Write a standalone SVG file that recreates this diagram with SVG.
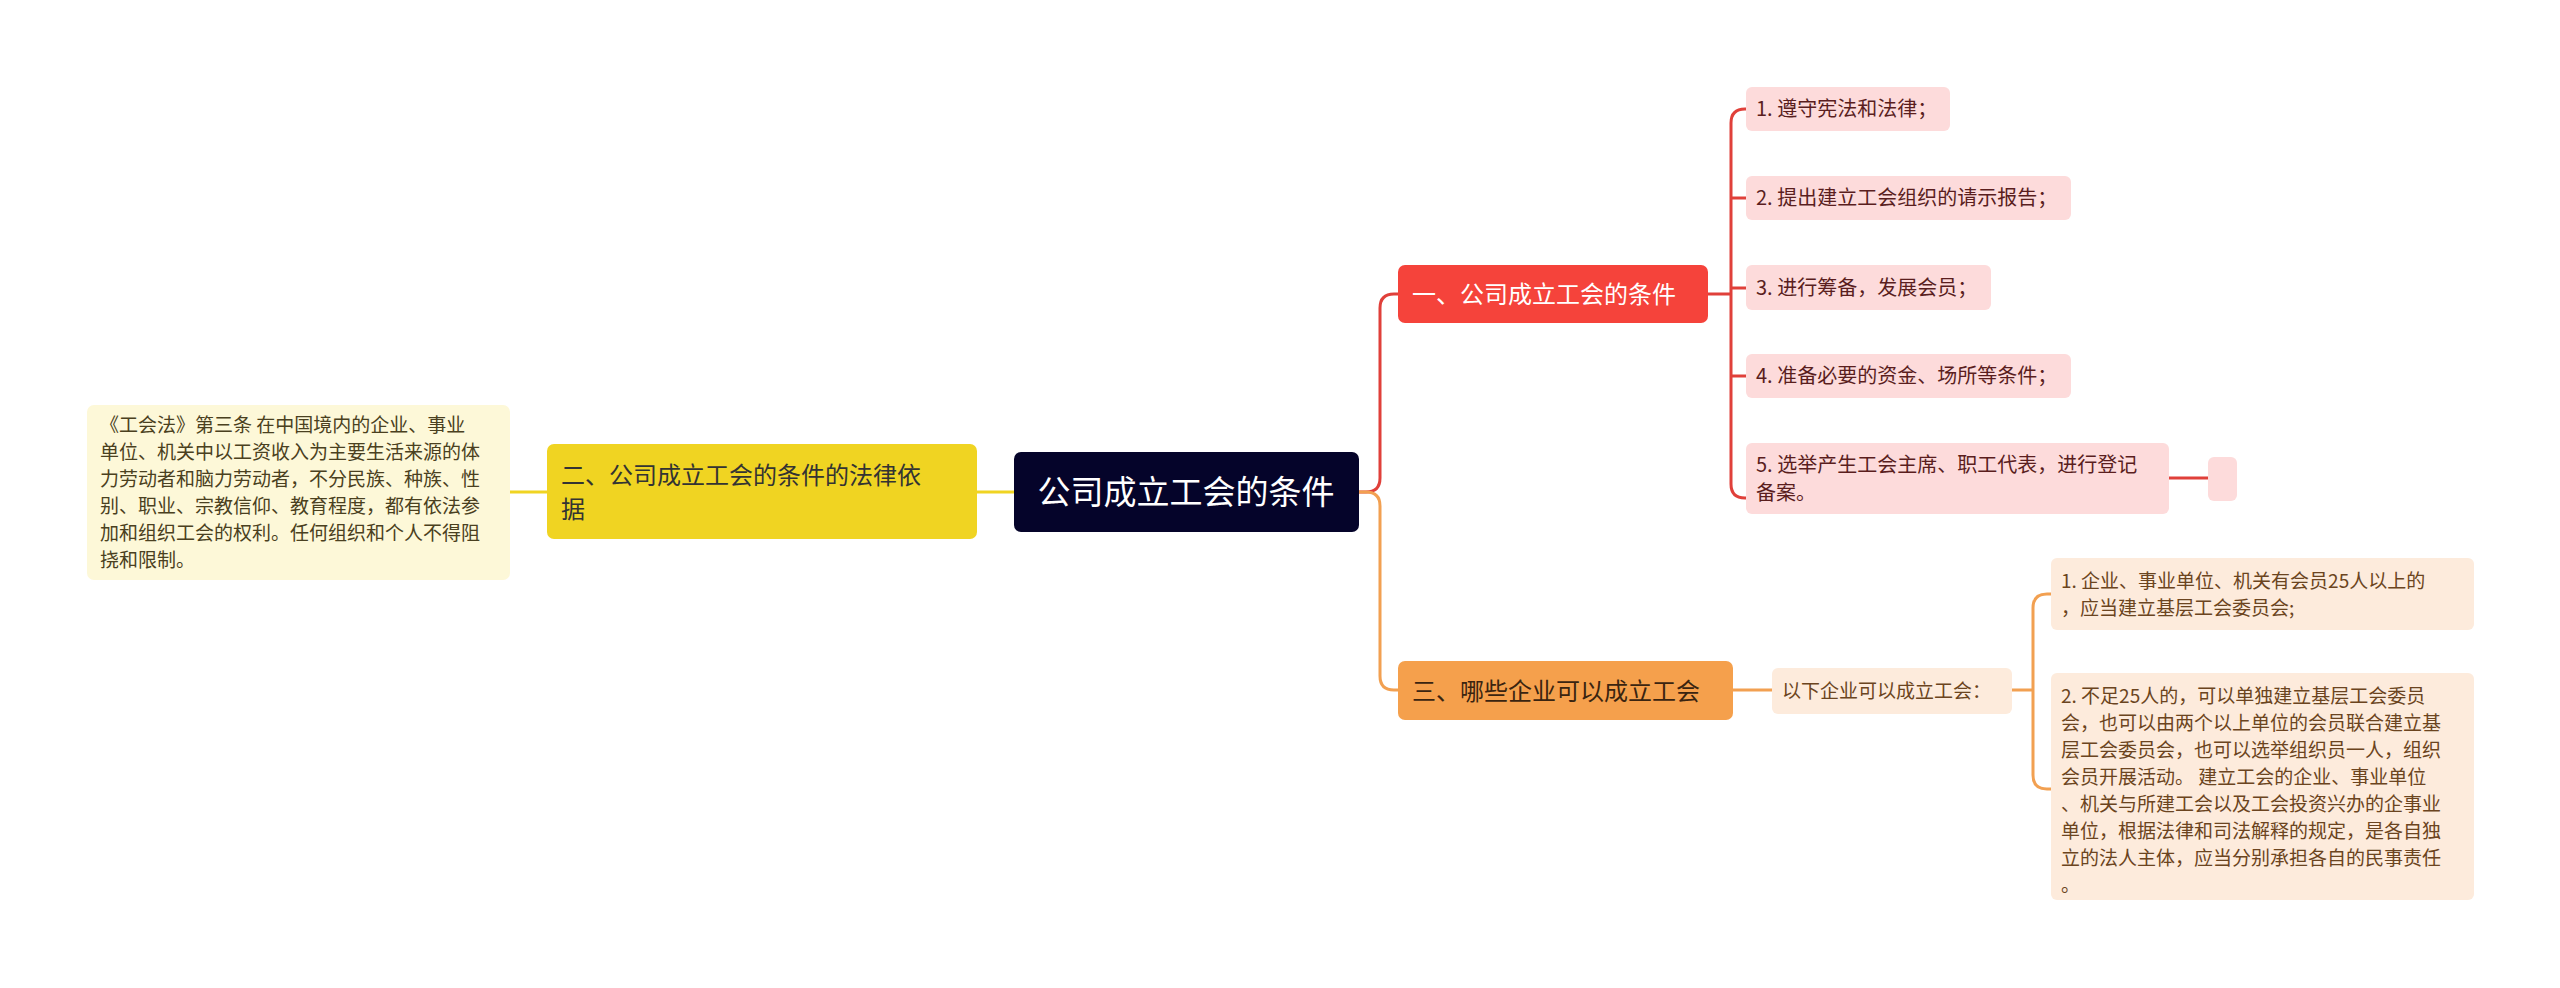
<svg xmlns="http://www.w3.org/2000/svg" width="2560" height="988" viewBox="0 0 2560 988">
<style>
text{font-family:"Noto Sans CJK SC","Noto Sans",sans-serif}
.r{fill:#fddbdb}.rt{fill:#5a1e1e;font-size:20px}
.o{fill:#fdebdc}.ot{fill:#6b4420;font-size:19px}
.lr{stroke:#e0403a;stroke-width:3;fill:none}
.lo{stroke:#f2a051;stroke-width:3;fill:none}
.ly{stroke:#f0d422;stroke-width:3;fill:none}
</style>
<rect width="2560" height="988" fill="#fff"/>
<g id="connectors">
<path class="ly" d="M1014 492H977M547 492H510"/>
<path class="lr" d="M1359 492H1366Q1380 492 1380 478V308Q1380 294 1394 294H1398"/>
<path class="lo" d="M1359 492H1366Q1380 492 1380 506V676Q1380 690 1394 690H1398"/>
<path class="lr" d="M1708 294H1731M1746 109H1745Q1731 109 1731 123V484Q1731 498 1745 498H1746M1731 198H1746M1731 288H1746M1731 376H1746M2169 478H2208"/>
<path class="lo" d="M1733 690H1772M2012 690H2033M2051 594H2047Q2033 594 2033 608V775Q2033 789 2047 789H2051"/>
</g>
<g id="root"><rect x="1014" y="452" width="345" height="80" rx="7" fill="#05042a"/><text x="1186" y="504" font-size="33" fill="#fff" text-anchor="middle">公司成立工会的条件</text></g>
<g id="n2"><rect x="547" y="444" width="430" height="95" rx="7" fill="#f0d422"/><text x="561" y="484" font-size="24" fill="#333">二、公司成立工会的条件的法律依</text><text x="561" y="518" font-size="24" fill="#333">据</text></g>
<g id="n2d"><rect x="87" y="405" width="423" height="175" rx="7" fill="#fdf8d8"/><text font-size="19" fill="#4a4020"><tspan x="100" y="432">《工会法》第三条 在中国境内的企业、事业</tspan><tspan x="100" y="459">单位、机关中以工资收入为主要生活来源的体</tspan><tspan x="100" y="486">力劳动者和脑力劳动者，不分民族、种族、性</tspan><tspan x="100" y="513">别、职业、宗教信仰、教育程度，都有依法参</tspan><tspan x="100" y="540">加和组织工会的权利。任何组织和个人不得阻</tspan><tspan x="100" y="567">挠和限制。</tspan></text></g>
<g id="n1"><rect x="1398" y="265" width="310" height="58" rx="7" fill="#f5433b"/><text x="1412" y="303" font-size="24" fill="#fff">一、公司成立工会的条件</text></g>
<g id="n1a"><rect class="r" x="1746" y="87" width="204" height="44" rx="6"/><text class="rt" x="1756" y="116">1. 遵守宪法和法律；</text></g>
<g id="n1b"><rect class="r" x="1746" y="176" width="325" height="44" rx="6"/><text class="rt" x="1756" y="205">2. 提出建立工会组织的请示报告；</text></g>
<g id="n1c"><rect class="r" x="1746" y="265" width="245" height="45" rx="6"/><text class="rt" x="1756" y="295">3. 进行筹备，发展会员；</text></g>
<g id="n1d"><rect class="r" x="1746" y="354" width="325" height="44" rx="6"/><text class="rt" x="1756" y="383">4. 准备必要的资金、场所等条件；</text></g>
<g id="n1e"><rect class="r" x="1746" y="443" width="423" height="71" rx="6"/><text class="rt"><tspan x="1756" y="472">5. 选举产生工会主席、职工代表，进行登记</tspan><tspan x="1756" y="500">备案。</tspan></text></g>
<g id="n1f"><rect class="r" x="2208" y="457" width="29" height="44" rx="6"/></g>
<g id="n3"><rect x="1398" y="661" width="335" height="59" rx="7" fill="#f5a04c"/><text x="1412" y="700" font-size="24" fill="#3a2410">三、哪些企业可以成立工会</text></g>
<g id="n3a"><rect class="o" x="1772" y="668" width="240" height="46" rx="6"/><text class="ot" x="1782" y="698">以下企业可以成立工会：</text></g>
<g id="n3b"><rect class="o" x="2051" y="558" width="423" height="72" rx="6"/><text class="ot"><tspan x="2061" y="588">1. 企业、事业单位、机关有会员25人以上的</tspan><tspan x="2061" y="615">，应当建立基层工会委员会;</tspan></text></g>
<g id="n3c"><rect class="o" x="2051" y="673" width="423" height="227" rx="6"/><text class="ot"><tspan x="2061" y="703">2. 不足25人的，可以单独建立基层工会委员</tspan><tspan x="2061" y="730">会，也可以由两个以上单位的会员联合建立基</tspan><tspan x="2061" y="757">层工会委员会，也可以选举组织员一人，组织</tspan><tspan x="2061" y="784">会员开展活动。 建立工会的企业、事业单位</tspan><tspan x="2061" y="811">、机关与所建工会以及工会投资兴办的企事业</tspan><tspan x="2061" y="838">单位，根据法律和司法解释的规定，是各自独</tspan><tspan x="2061" y="865">立的法人主体，应当分别承担各自的民事责任</tspan><tspan x="2061" y="892">。</tspan></text></g>
</svg>
